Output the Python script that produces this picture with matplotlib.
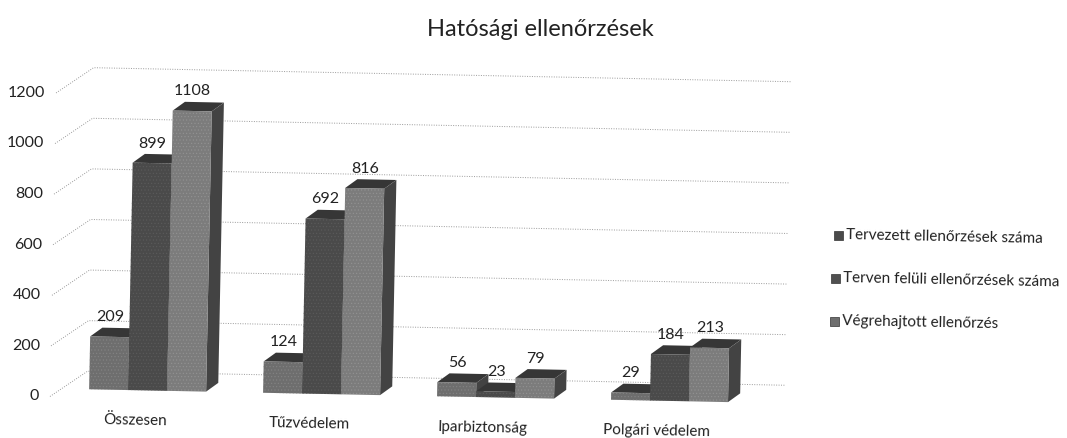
import numpy as np
import matplotlib
matplotlib.use('Agg')
import matplotlib.pyplot as plt
from matplotlib.patches import Polygon
from matplotlib.transforms import Affine2D

# Values
categories = ['Összesen', 'Tűzvédelem', 'Iparbiztonság', 'Polgári védelem']
tervezett = [209, 124, 56, 29]
terven_feluli = [899, 692, 23, 184]
vegrehajtott = [1108, 816, 79, 213]
series_names = ['Tervezett ellenőrzések száma', 'Terven felüli ellenőrzések száma', 'Végrehajtott ellenőrzés']
y_ticks = [0, 200, 400, 600, 800, 1000, 1200]

plt.rcParams['font.family'] = ['Lato', 'DejaVu Sans']
plt.rcParams['hatch.linewidth'] = 0.4

W, H = 1067, 438
PX_X = 174.0    # pixels per category
PX_Y = 0.253    # pixels per value unit
X0, Y0 = 147.5, 388.5

fig = plt.figure(figsize=(W / 100, H / 100), dpi=100)
ax = fig.add_axes([0, 0, 1, 1])
ax.set_xlim(-X0 / PX_X, (W - X0) / PX_X)
ax.set_ylim(-(H - Y0) / PX_Y, Y0 / PX_Y)
ax.axis('off')

# The page was scanned slightly crooked
tilt = Affine2D().rotate_deg_around(50, H - 395, -1.15)
tr = ax.transData + tilt

bar_w = 39 / PX_X
depth_x = 12 / PX_X
depth_y = 9 / PX_Y
wall_x = 37 / PX_X
wall_y = 26 / PX_Y
grid_drop = 8 / PX_Y   # axis floor starts a bit below the bar bases
left = -97.5 / PX_X
right = 3.66

# back wall gridlines
for v in y_ticks:
    xs = [left, left + wall_x, right]
    ys = [v - grid_drop, v - grid_drop + wall_y, v - grid_drop + wall_y]
    ax.plot(xs, ys, color='#9a9a9a', lw=0.7, ls=(0, (1, 1.5)), transform=tr, zorder=1)
    ax.text(left - 11 / PX_X, v - grid_drop, str(v), ha='right', va='center', fontsize=11.5, color='#222222',
            transform=tr, zorder=5)

front_colors = ['#6e6e6e', '#4a4a4a', '#7c7c7c']
hatch_colors = ['#858585', '#5c5c5c', '#949494']
side_color = '#434343'
top_color = '#363636'
all_series = [tervezett, terven_feluli, vegrehajtott]

for i in range(len(categories)):
    for j, values in enumerate(all_series):
        v = values[i]
        x1 = i + (j - 1.5) * bar_w
        x2 = x1 + bar_w
        top = Polygon([(x1, v), (x2, v), (x2 + depth_x, v + depth_y), (x1 + depth_x, v + depth_y)],
                      fc=top_color, ec='none', transform=tr, zorder=2 + i + j * 0.1)
        side = Polygon([(x2, 0), (x2 + depth_x, depth_y), (x2 + depth_x, v + depth_y), (x2, v)],
                       fc=side_color, ec='none', transform=tr, zorder=2 + i + j * 0.1)
        front = Polygon([(x1, 0), (x2, 0), (x2, v), (x1, v)], fc=front_colors[j], ec=hatch_colors[j],
                        hatch='.....', lw=0, transform=tr, zorder=2 + i + j * 0.1)
        ax.add_patch(top)
        ax.add_patch(side)
        ax.add_patch(front)
        ax.text(x1 + bar_w / 2, v + depth_y + 10.5 / PX_Y, str(v), ha='center', va='center',
                fontsize=11.5, color='#222222', transform=tr, zorder=8)

    ax.text(i - 12 / PX_X, -30.5 / PX_Y, categories[i], ha='center', va='center', fontsize=11,
            color='#222222', rotation=-1.15, rotation_mode='anchor', transform=tr, zorder=8)

fig.text(540 / W, 1 - 29 / H, 'Hatósági ellenőrzések', ha='center', va='center', fontsize=17, color='#222222')

# legend, placed by hand because it follows the crooked scan
legend_pos = [(838, 235), (835, 278), (834, 321)]
legend_colors = ['#4a4a4a', '#505050', '#6e6e6e']
for (lx, ly), name, c in zip(legend_pos, series_names, legend_colors):
    fig.add_artist(plt.Rectangle(((lx - 4.5) / W, 1 - (ly + 4.5) / H), 9 / W, 9 / H, fc=c, ec='#333333',
                                 lw=0.5, transform=fig.transFigure))
    fig.text((lx + 8) / W, 1 - ly / H, name, ha='left', va='center', fontsize=11, color='#222222',
             rotation=-1.15, rotation_mode='anchor')

fig.savefig('out.png', dpi=100)
